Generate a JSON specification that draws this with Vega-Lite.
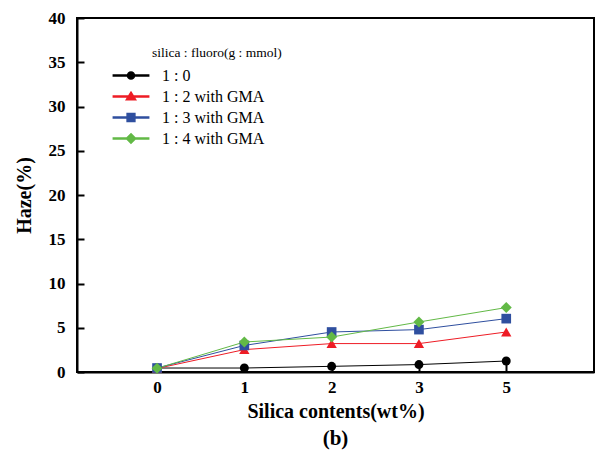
{
  "$schema": "https://vega.github.io/schema/vega-lite/v6.json",
  "width": 517,
  "height": 354,
  "autosize": {"type": "none"},
  "padding": {"left": 77, "top": 18, "right": 3, "bottom": 86},
  "background": "white",
  "title": {"text": "(b)", "orient": "bottom", "anchor": "middle", "font": "Liberation Serif", "fontSize": 21, "fontWeight": "bold", "color": "black", "offset": 7},
  "config": {
    "view": {"stroke": "black", "strokeWidth": 2},
    "axis": {"domainColor": "black", "domainWidth": 2, "tickColor": "black", "tickWidth": 2, "grid": false, "labelFont": "Liberation Serif", "labelFontWeight": "bold", "labelFontSize": 17, "labelColor": "black", "titleFont": "Liberation Serif", "titleFontWeight": "bold", "titleColor": "black"}
  },
  "data": {"values": [
    {"silica": 0, "series": "1 : 0", "haze": 0.45},
    {"silica": 1, "series": "1 : 0", "haze": 0.45},
    {"silica": 2, "series": "1 : 0", "haze": 0.64},
    {"silica": 3, "series": "1 : 0", "haze": 0.84},
    {"silica": 5, "series": "1 : 0", "haze": 1.24},
    {"silica": 0, "series": "1 : 2 with GMA", "haze": 0.4},
    {"silica": 1, "series": "1 : 2 with GMA", "haze": 2.53},
    {"silica": 2, "series": "1 : 2 with GMA", "haze": 3.21},
    {"silica": 3, "series": "1 : 2 with GMA", "haze": 3.21},
    {"silica": 5, "series": "1 : 2 with GMA", "haze": 4.52},
    {"silica": 0, "series": "1 : 3 with GMA", "haze": 0.45},
    {"silica": 1, "series": "1 : 3 with GMA", "haze": 3.0},
    {"silica": 2, "series": "1 : 3 with GMA", "haze": 4.52},
    {"silica": 3, "series": "1 : 3 with GMA", "haze": 4.79},
    {"silica": 5, "series": "1 : 3 with GMA", "haze": 6.03},
    {"silica": 0, "series": "1 : 4 with GMA", "haze": 0.42},
    {"silica": 1, "series": "1 : 4 with GMA", "haze": 3.39},
    {"silica": 2, "series": "1 : 4 with GMA", "haze": 3.95},
    {"silica": 3, "series": "1 : 4 with GMA", "haze": 5.65},
    {"silica": 5, "series": "1 : 4 with GMA", "haze": 7.28}
  ]},
  "encoding": {
    "x": {"field": "silica", "type": "ordinal", "scale": {"type": "point", "domain": [0, 1, 2, 3, 5], "padding": 0.961, "align": 0.477},
      "axis": {"title": "Silica contents(wt%)", "labelAngle": 0, "tickSize": -8, "labelPadding": 15, "titleFontSize": 20, "titlePadding": 6}},
    "y": {"field": "haze", "type": "quantitative", "scale": {"domain": [0, 40], "nice": false, "zero": true},
      "axis": {"title": "Haze(%)", "values": [0, 5, 10, 15, 20, 25, 30, 35, 40], "tickSize": -7, "labelPadding": 19, "titleFontSize": 20, "titlePadding": 14}},
    "color": {"field": "series", "type": "nominal",
      "scale": {"domain": ["1 : 0", "1 : 2 with GMA", "1 : 3 with GMA", "1 : 4 with GMA"], "range": ["#000000", "#ee1c25", "#2f4f9f", "#62b946"]},
      "legend": {
        "orient": "none", "legendX": 46, "legendY": 28,
        "title": "silica : fluoro(g : mmol)", "titleFont": "Liberation Serif", "titleFontWeight": "normal", "titleFontSize": 13.5, "titleColor": "black", "titlePadding": 8,
        "labelFont": "Liberation Serif", "labelFontSize": 16, "labelColor": "black", "labelOffset": 23,
        "symbolSize": 200, "rowPadding": 5, "padding": 0,
        "encode": {
          "title": {"update": {"dx": {"value": 29}}},
          "symbols": {"update": {
            "shape": {"signal": "['M-2.5,-0.085H2.5V0.085H-2.5ZM0.5,0A0.5,0.5,0,1,1,-0.5,0A0.5,0.5,0,1,1,0.5,0Z', 'M-2.5,-0.085H2.5V0.085H-2.5ZM0,-0.62L0.66,0.45L-0.66,0.45Z', 'M-2.5,-0.085H2.5V0.085H-2.5ZM-0.55,-0.55H0.55V0.55H-0.55Z', 'M-2.5,-0.085H2.5V0.085H-2.5ZM0,-0.66L0.66,0L0,0.66L-0.66,0Z'][datum.index]"},
            "fill": {"signal": "scale('color', datum.value)"},
            "stroke": {"value": "transparent"},
            "size": {"value": 200},
            "opacity": {"value": 1}
          }}
        }
      }}
  },
  "layer": [
    {"mark": {"type": "line", "strokeWidth": 1}},
    {"mark": {"type": "point", "filled": true, "opacity": 1},
      "encoding": {
        "shape": {"field": "series", "type": "nominal", "scale": {"domain": ["1 : 4 with GMA", "1 : 3 with GMA", "1 : 2 with GMA", "1 : 0"], "range": ["diamond", "square", "triangle-up", "circle"]}, "legend": null},
        "size": {"field": "series", "type": "nominal", "scale": {"domain": ["1 : 4 with GMA", "1 : 2 with GMA", "1 : 3 with GMA", "1 : 0"], "range": [120, 80, 64, 64]}, "legend": null}
      }}
  ]
}
